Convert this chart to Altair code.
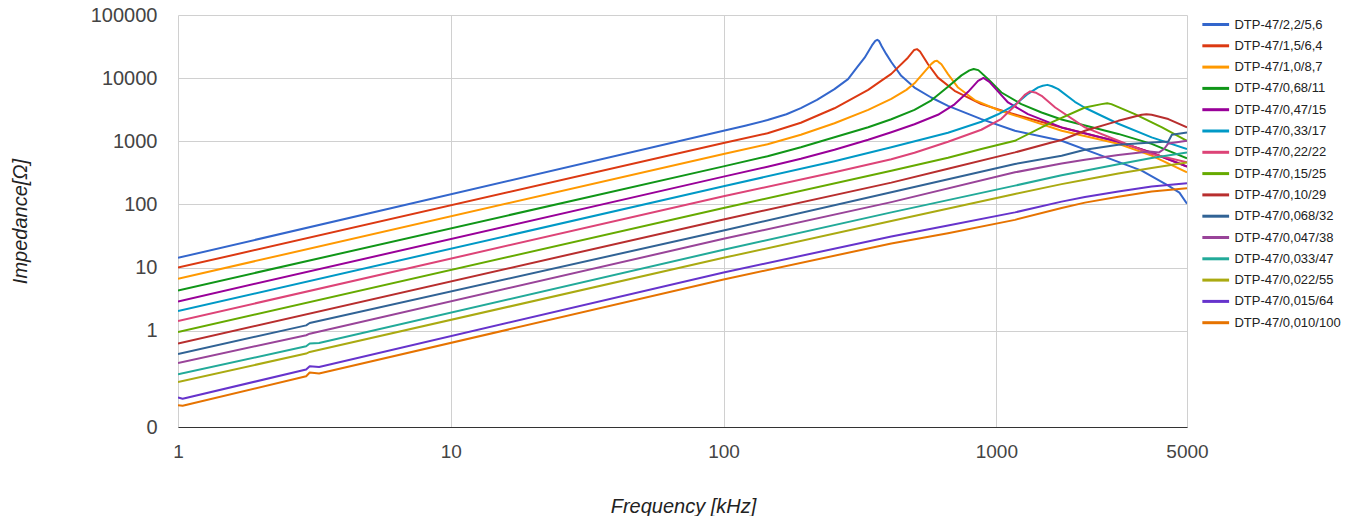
import altair as alt
import pandas as pd

names = ["DTP-47/2,2/5,6", "DTP-47/1,5/6,4", "DTP-47/1,0/8,7", "DTP-47/0,68/11",
         "DTP-47/0,47/15", "DTP-47/0,33/17", "DTP-47/0,22/22", "DTP-47/0,15/25",
         "DTP-47/0,10/29", "DTP-47/0,068/32", "DTP-47/0,047/38", "DTP-47/0,033/47",
         "DTP-47/0,022/55", "DTP-47/0,015/64", "DTP-47/0,010/100"]
colors = ["#3366cc", "#dc3912", "#ff9900", "#109618", "#990099", "#0099c6", "#dd4477",
          "#66aa00", "#b82e2e", "#316395", "#994499", "#22aa99", "#aaaa11", "#6633cc", "#e67300"]

# frequency [kHz] / impedance [Ohm]
f_01 = [1, 100, 120, 145, 170, 192, 220, 255, 286, 308, 329, 350, 360, 366, 372, 380, 395, 412, 448, 501, 577, 665, 881, 1170, 1735, 2430, 3410, 4270, 4690, 5000]
z_01 = [14.3, 1470, 1763, 2170, 2680, 3360, 4540, 6700, 9640, 14700, 21100, 33000, 39000, 40500, 38500, 32000, 24000, 18000, 10900, 7100, 4940, 3650, 2250, 1470, 1020, 593, 343, 199, 154, 103]
f_02 = [1, 100, 145, 192, 255, 339, 378, 412, 474, 500, 512, 525, 562, 611, 703, 881, 1104, 1735, 2800, 3710, 5000]
z_02 = [10, 940, 1343, 1967, 3335, 6530, 9060, 11700, 21100, 28000, 28800, 26500, 16600, 10200, 6300, 3880, 2860, 1660, 986, 660, 397]
f_03 = [1, 100, 145, 192, 255, 339, 412, 468, 501, 545, 578, 595, 606, 616, 629, 665, 724, 833, 1015, 1346, 1735, 2800, 3710, 5000]
z_03 = [6.68, 630, 900, 1271, 1932, 3155, 4710, 6530, 8280, 12600, 16830, 18600, 18900, 17800, 16600, 11600, 7100, 4500, 3130, 2110, 1470, 916, 593, 323]
f_04 = [1, 100, 145, 192, 255, 339, 412, 501, 578, 665, 745, 797, 826, 859, 934, 1044, 1235, 1465, 1735, 2800, 3710, 5000]
z_04 = [4.36, 401, 582, 807, 1161, 1671, 2233, 3155, 4460, 7290, 11070, 13270, 14000, 13400, 9640, 5930, 3880, 2860, 2220, 1310, 910, 540]
f_05 = [1, 100, 145, 192, 255, 339, 412, 501, 611, 703, 788, 857, 897, 943, 1010, 1104, 1306, 1735, 2800, 3710, 5000]
z_05 = [2.92, 276, 397, 531, 736, 1060, 1393, 1862, 2630, 3855, 6080, 9060, 10100, 8730, 6300, 4120, 2700, 1660, 986, 660, 397]
f_06 = [1, 100, 255, 412, 665, 881, 1015, 1170, 1306, 1423, 1480, 1540, 1600, 1686, 1940, 2112, 2430, 2800, 3710, 5000]
z_06 = [2.05, 194, 485, 807, 1368, 2040, 2680, 3785, 5650, 7160, 7600, 7830, 7450, 6700, 4225, 3400, 2540, 1897, 1153, 756]
f_07 = [1, 100, 255, 412, 501, 665, 881, 1044, 1170, 1271, 1330, 1400, 1465, 1644, 2112, 2800, 3710, 5000]
z_07 = [1.43, 135, 323, 521, 661, 986, 1525, 2276, 3650, 5450, 6180, 5860, 5250, 3430, 1660, 1020, 630, 464]
f_08 = [1, 100, 412, 665, 881, 1170, 1593, 2112, 2430, 2550, 2640, 3220, 4050, 5000]
z_08 = [0.96, 88, 343, 551, 756, 1020, 1990, 3430, 3880, 4000, 3880, 2700, 1660, 1020]
f_09 = [1, 100, 412, 665, 1170, 1593, 1735, 2112, 2800, 3410, 3550, 3710, 4270, 5000]
z_09 = [0.63, 58, 222, 369, 668, 961, 1050, 1470, 2110, 2630, 2680, 2630, 2250, 1660]
f_10 = [1, 2.95, 3.04, 100, 412, 1170, 1735, 2112, 2800, 3710, 4270, 4400, 5000]
z_10 = [0.43, 1.22, 1.33, 38.7, 156, 438, 593, 736, 883, 961, 995, 1270, 1380]
f_11 = [1, 2.95, 3.04, 100, 412, 1170, 1735, 2112, 2800, 3630, 3950, 4120, 4270, 5000]
z_11 = [0.31, 0.85, 0.90, 28.6, 109, 323, 445, 512, 608, 692, 668, 756, 927, 1020]
f_12 = [1, 2.95, 3.04, 3.29, 100, 412, 1170, 1735, 2112, 2800, 3710, 5000]
z_12 = [0.205, 0.569, 0.628, 0.642, 19.2, 75, 199, 291, 343, 435, 545, 668]
f_13 = [1, 2.95, 3.04, 100, 412, 1170, 1735, 2112, 2800, 3710, 5000]
z_13 = [0.155, 0.436, 0.463, 14.3, 54.7, 147, 210, 247, 310, 379, 464]
f_14 = [1, 1.04, 2.95, 3.04, 3.29, 100, 412, 665, 1170, 1735, 2112, 2800, 3710, 5000]
z_14 = [0.088, 0.084, 0.244, 0.275, 0.268, 8.4, 31.1, 46.4, 75, 111, 131, 160, 192, 216]
f_15 = [1, 1.04, 2.95, 3.04, 3.29, 100, 412, 665, 1170, 1735, 2112, 2800, 3710, 5000]
z_15 = [0.0665, 0.065, 0.191, 0.219, 0.211, 6.5, 24.1, 35.1, 57.1, 87.7, 107, 133, 160, 180]

freqs = [f_01, f_02, f_03, f_04, f_05, f_06, f_07, f_08, f_09, f_10, f_11, f_12, f_13, f_14, f_15]
imps = [z_01, z_02, z_03, z_04, z_05, z_06, z_07, z_08, z_09, z_10, z_11, z_12, z_13, z_14, z_15]

x_ticks = [1, 10, 100, 1000, 5000]
y_min = 0.03
y_ticks = [y_min, 1, 10, 100, 1000, 10000, 100000]

rows = []
for k, (name, fs, zs) in enumerate(zip(names, freqs, imps)):
    for f, z in zip(fs, zs):
        rows.append({"series": name, "order": k, "f": f, "z": z})
df = pd.DataFrame(rows)

chart = alt.Chart(df).mark_line(strokeWidth=2, interpolate="linear", clip=True,
                                strokeJoin="round").encode(
    x=alt.X("f:Q",
            scale=alt.Scale(type="log", domain=[1, 5000], nice=False),
            axis=alt.Axis(values=x_ticks, format="d", title="Frequency [kHz]",
                          grid=True, gridColor="#d0d0d0", domain=True, domainColor="#333333",
                          domainWidth=1.2, ticks=False, labelPadding=15, labelFontSize=19,
                          labelFlush=False, labelOverlap=False,
                          labelColor="#444444", titleFontSize=20, titleFontStyle="italic",
                          titleFontWeight="normal", titleColor="#222222",
                          titleX=505, titleY=79, titleBaseline="middle", titleAlign="center")),
    y=alt.Y("z:Q",
            scale=alt.Scale(type="log", domain=[y_min, 100000], nice=False),
            axis=alt.Axis(values=y_ticks,
                          labelExpr="datum.value < 0.5 ? '0' : format(datum.value, 'd')",
                          title="Impedance[Ω]", grid=True, gridColor="#d0d0d0", domain=False,
                          ticks=False, labelPadding=21, labelFontSize=20, labelColor="#444444",
                          labelFlush=False, labelOverlap=False,
                          titleFontSize=20, titleFontStyle="italic", titleFontWeight="normal",
                          titleColor="#222222", titleAngle=270, titleX=-158, titleY=206,
                          titleBaseline="middle", titleAlign="center")),
    color=alt.Color("series:N",
                    scale=alt.Scale(domain=names, range=colors),
                    legend=alt.Legend(title=None, orient="none", legendX=1022.7, legendY=2.5,
                                      symbolType="M-1,0H4", symbolSize=114.5,
                                      symbolStrokeWidth=3, labelFontSize=13,
                                      labelColor="#222222", labelOffset=19.7, rowPadding=7.3,
                                      padding=0, labelLimit=200)),
    order=alt.Order("order:Q"),
    detail="series:N",
).properties(
    width=1009, height=412,
    autosize=alt.AutoSizeParams(type="none"),
    padding={"left": 170, "top": 7, "right": 163, "bottom": 89},
).configure(font="Liberation Sans").configure_view(stroke=None)

chart.save("out.html", embed_options={"renderer": "svg", "actions": False})
